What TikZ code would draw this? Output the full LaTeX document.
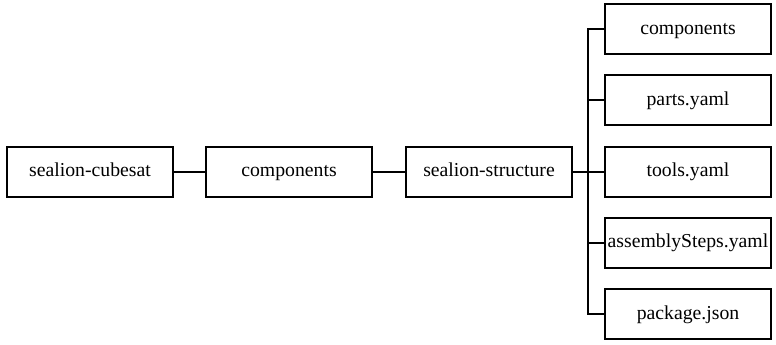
\documentclass[tikz,border=0pt]{standalone}
\usepackage{fontspec}
\setmainfont{Liberation Serif}
\begin{document}
\begin{tikzpicture}[x=0.75pt,y=-0.75pt,
  box/.style={draw=black,line width=1.5pt,minimum width=124.5pt,minimum height=37.5pt,
    inner sep=0pt,text height=6.8pt,text depth=0pt,font=\fontsize{14.8}{17}\selectfont},
  link/.style={line width=1.5pt}]
\useasboundingbox (0,0) rectangle (776,345);
% main chain
\node[box] (cube) at (90,172) {sealion-cubesat};
\node[box] (comp) at (289,172) {components};
\node[box] (struct) at (489,172) {sealion-structure};
% children of sealion-structure
\node[box] (c1) at (688,29.5) {components};
\node[box] (c2) at (688,100.5) {parts.yaml};
\node[box] (c3) at (688,172) {tools.yaml};
\node[box] (c4) at (688,243) {assemblySteps.yaml};
\node[box] (c5) at (688,314.5) {package.json};
\coordinate (j) at (588,172);
\draw[link] (cube) -- (comp);
\draw[link] (comp) -- (struct);
\draw[link] (struct.east) -- (j);
\foreach \c in {c1,c2,c3,c4,c5}
  \draw[link] (j) |- (\c.west);
\end{tikzpicture}
\end{document}
